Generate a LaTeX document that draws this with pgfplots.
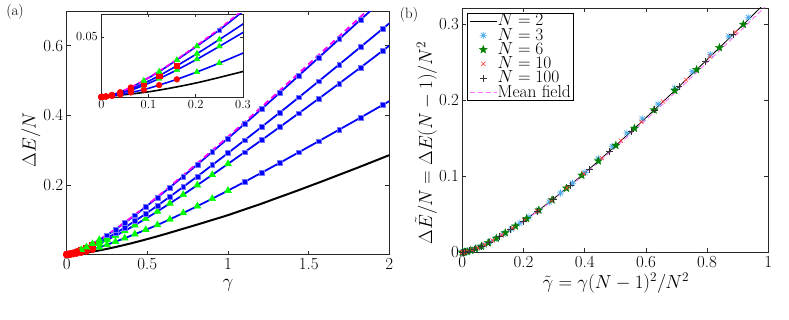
\RequirePackage{fix-cm}
\documentclass[border=0pt]{standalone}
\usepackage{pgfplots}
\pgfplotsset{compat=1.18}
\usepackage{pgfplotstable}
\usetikzlibrary{plotmarks}

\definecolor{mblue}{RGB}{0,0,255}
\definecolor{mgreen}{RGB}{0,255,0}
\definecolor{mred}{RGB}{255,0,0}
\definecolor{mmag}{RGB}{255,0,255}
\definecolor{cyanst}{RGB}{77,170,235}
\definecolor{dgreen}{RGB}{0,128,0}
\definecolor{xred}{RGB}{255,60,60}
\definecolor{pinkmf}{RGB}{255,110,255}
\definecolor{axgray}{RGB}{40,40,40}

% matlab-like marks: 8-ray asterisk and filled pentagram
\pgfdeclareplotmark{ast8}{%
  \pgfpathmoveto{\pgfqpoint{-\pgfplotmarksize}{0pt}}\pgfpathlineto{\pgfqpoint{\pgfplotmarksize}{0pt}}%
  \pgfpathmoveto{\pgfqpoint{0pt}{-\pgfplotmarksize}}\pgfpathlineto{\pgfqpoint{0pt}{\pgfplotmarksize}}%
  \pgfpathmoveto{\pgfqpoint{-0.707\pgfplotmarksize}{-0.707\pgfplotmarksize}}\pgfpathlineto{\pgfqpoint{0.707\pgfplotmarksize}{0.707\pgfplotmarksize}}%
  \pgfpathmoveto{\pgfqpoint{-0.707\pgfplotmarksize}{0.707\pgfplotmarksize}}\pgfpathlineto{\pgfqpoint{0.707\pgfplotmarksize}{-0.707\pgfplotmarksize}}%
  \pgfusepathqstroke}
\pgfdeclareplotmark{pstar}{%
  \pgfpathmoveto{\pgfpointpolar{90}{\pgfplotmarksize}}%
  \pgfpathlineto{\pgfpointpolar{126}{0.42\pgfplotmarksize}}%
  \pgfpathlineto{\pgfpointpolar{162}{\pgfplotmarksize}}%
  \pgfpathlineto{\pgfpointpolar{198}{0.42\pgfplotmarksize}}%
  \pgfpathlineto{\pgfpointpolar{234}{\pgfplotmarksize}}%
  \pgfpathlineto{\pgfpointpolar{270}{0.42\pgfplotmarksize}}%
  \pgfpathlineto{\pgfpointpolar{306}{\pgfplotmarksize}}%
  \pgfpathlineto{\pgfpointpolar{342}{0.42\pgfplotmarksize}}%
  \pgfpathlineto{\pgfpointpolar{18}{\pgfplotmarksize}}%
  \pgfpathlineto{\pgfpointpolar{54}{0.42\pgfplotmarksize}}%
  \pgfpathclose\pgfusepathqfillstroke}

% left panel: Delta E / N against gamma, gamma = (0.05 k)^2, k = 0..28, then gamma = 2
\pgfplotstableread{
g v
0 0
0.0025 0.0001
0.01 0.0005
0.0225 0.0009
0.04 0.0020
0.0625 0.0038
0.09 0.0061
0.1225 0.0099
0.16 0.0147
0.2025 0.0208
0.25 0.0282
0.3025 0.0369
0.36 0.0470
0.4225 0.0585
0.49 0.0711
0.5625 0.0849
0.64 0.1013
0.7225 0.1193
0.81 0.1391
0.9025 0.1605
1.0 0.1838
1.1025 0.2087
1.21 0.2356
1.3225 0.2639
1.44 0.2941
1.5625 0.3257
1.69 0.3591
1.8225 0.3938
1.96 0.4302
2.0 0.4409
}\tNthree
\pgfplotstableread{
g v
0 0
0.0025 0.0000
0.01 0.0004
0.0225 0.0012
0.04 0.0031
0.0625 0.0056
0.09 0.0097
0.1225 0.0153
0.16 0.0225
0.2025 0.0314
0.25 0.0421
0.3025 0.0542
0.36 0.0679
0.4225 0.0845
0.49 0.1032
0.5625 0.1240
0.64 0.1470
0.7225 0.1721
0.81 0.1996
0.9025 0.2291
1.0 0.2606
1.1025 0.2941
1.21 0.3295
1.3225 0.3670
1.44 0.4064
1.5625 0.4480
1.69 0.4918
1.8225 0.5378
1.96 0.5862
2.0 0.6003
}\tNsix
\pgfplotstableread{
g v
0 0
0.0025 0.0001
0.01 0.0004
0.0225 0.0015
0.04 0.0035
0.0625 0.0066
0.09 0.0113
0.1225 0.0177
0.16 0.0260
0.2025 0.0360
0.25 0.0478
0.3025 0.0613
0.36 0.0775
0.4225 0.0962
0.49 0.1172
0.5625 0.1405
0.64 0.1664
0.7225 0.1944
0.81 0.2247
0.9025 0.2572
1.0 0.2917
1.1025 0.3284
1.21 0.3673
1.3225 0.4086
1.44 0.4521
1.5625 0.4980
1.69 0.5464
1.8225 0.5968
1.96 0.6493
2.0 0.6645
}\tNten
\pgfplotstableread{
g v
0 0
0.0025 0.0001
0.01 0.0005
0.0225 0.0018
0.04 0.0040
0.0625 0.0079
0.09 0.0136
0.1225 0.0211
0.16 0.0308
0.2025 0.0423
0.25 0.0557
0.3025 0.0720
0.36 0.0912
0.4225 0.1127
0.49 0.1369
0.5625 0.1638
0.64 0.1931
0.7225 0.2247
0.81 0.2587
0.9025 0.2952
1.0 0.3339
1.1025 0.3752
1.21 0.4191
1.3225 0.4656
1.44 0.5148
1.5625 0.5661
1.69 0.6196
1.8225 0.6752
1.96 0.7328
2.0 0.7496
}\tNhund
\pgfplotstableread{
g v
0 0
0.1 0.0043
0.2 0.0116
0.3 0.0212
0.4 0.0322
0.5 0.0444
0.6 0.0573
0.7 0.0710
0.8 0.0847
0.9 0.0989
1.0 0.1132
1.1 0.1291
1.2 0.1448
1.3 0.1618
1.4 0.1785
1.5 0.1958
1.6 0.2132
1.7 0.2311
1.8 0.2489
1.9 0.2672
2.0 0.2856
}\tNtwo
\pgfplotstableread{
g v
0 0
0.02 0.0015
0.04 0.0041
0.06 0.0075
0.08 0.0116
0.10 0.0161
0.12 0.0209
0.14 0.0260
0.16 0.0313
0.20 0.0423
0.25 0.0566
0.30 0.0724
0.35 0.0893
0.40 0.1066
0.45 0.1244
0.50 0.1428
0.60 0.1805
0.70 0.2193
0.80 0.2586
0.90 0.2984
1.00 0.3386
1.10 0.3794
1.20 0.4208
1.30 0.4626
1.40 0.5049
1.50 0.5472
1.60 0.5896
1.70 0.6319
1.80 0.6742
1.90 0.7166
2.00 0.7589
}\tMF

% right panel: scaled energy against scaled coupling
\pgfplotstableread{
g v
0 0
0.02 0.0015
0.04 0.0040
0.06 0.0074
0.08 0.0114
0.10 0.0158
0.12 0.0205
0.14 0.0255
0.16 0.0307
0.20 0.0415
0.25 0.0555
0.30 0.0710
0.35 0.0875
0.40 0.1045
0.45 0.1220
0.50 0.1400
0.60 0.1770
0.70 0.2150
0.80 0.2535
0.90 0.2925
1.00 0.3320
}\rNtwo
\pgfplotstableread{
g v
0 0
0.00111 0.00005
0.00444 0.0003
0.01 0.0006
0.01778 0.0013
0.02778 0.0025
0.04 0.0040
0.05444 0.0065
0.07111 0.0096
0.09 0.0136
0.11111 0.0184
0.13444 0.0241
0.16 0.0307
0.18778 0.0382
0.21778 0.0465
0.25 0.0555
0.28444 0.0662
0.32111 0.0780
0.36 0.0909
0.40111 0.1049
0.44444 0.1231
0.49 0.1394
0.53778 0.1570
0.58778 0.1755
0.64 0.1952
0.69444 0.2159
0.75111 0.2377
0.81 0.2604
0.87111 0.2842
0.93444 0.3091
}\rNthree
\pgfplotstableread{
g v
0 0
0.00174 0.00004
0.00694 0.0003
0.01563 0.0010
0.02778 0.0025
0.04340 0.0046
0.0625 0.0079
0.08507 0.0125
0.11111 0.0184
0.14063 0.0257
0.17361 0.0344
0.21007 0.0443
0.25 0.0555
0.29340 0.0690
0.34028 0.0843
0.39063 0.1013
0.44444 0.1201
0.50174 0.1406
0.5625 0.1631
0.62674 0.1872
0.69444 0.2129
0.76563 0.2403
0.84028 0.2692
0.91840 0.2998
}\rNsix
\pgfplotstableread{
g v
0 0
0.00203 0.00005
0.0081 0.0004
0.01823 0.0013
0.0324 0.0031
0.05063 0.0058
0.0729 0.0100
0.09923 0.0156
0.1296 0.0229
0.16403 0.0318
0.2025 0.0422
0.24503 0.0541
0.2916 0.0684
0.34223 0.0849
0.3969 0.1034
0.45563 0.1240
0.5184 0.1468
0.58523 0.1715
0.6561 0.1983
0.73103 0.2269
0.81 0.2574
0.89303 0.2898
}\rNten
\pgfplotstableread{
g v
0 0
0.00245 0.0001
0.0098 0.0005
0.02205 0.0018
0.0392 0.0039
0.06126 0.0077
0.08821 0.0132
0.12006 0.0205
0.15682 0.0299
0.19847 0.0411
0.24503 0.0541
0.29648 0.0699
0.35284 0.0885
0.41409 0.1094
0.48025 0.1329
0.5513 0.1590
0.62726 0.1874
0.70812 0.2181
0.79388 0.2511
0.88454 0.2865
}\rNhund
\pgfplotstableread{
g v
0 0
0.02 0.0015
0.04 0.0039
0.06 0.0073
0.08 0.0112
0.10 0.0156
0.12 0.0202
0.14 0.0251
0.16 0.0302
0.20 0.0409
0.25 0.0547
0.30 0.0699
0.35 0.0862
0.40 0.1029
0.45 0.1202
0.50 0.1379
0.60 0.1743
0.70 0.2118
0.80 0.2497
0.90 0.2881
1.00 0.3270
}\rMF

\pgfplotsset{
  mat/.style={
    scale only axis,
    axis line style={axgray, line width=0.8pt},
    tick style={axgray, line width=0.6pt},
    tick align=inside,
    tick pos=both,
    major tick length=4pt,
    scaled ticks=false,
    ticklabel style={font=\fontsize{17}{17}\selectfont},
  },
  sq/.style={only marks, mark=square*, mark size=2.4pt,
    mark options={fill=mblue, draw=blue!55, line width=0.4pt}},
  tri/.style={only marks, mark=triangle*, mark size=4pt,
    mark options={fill=mgreen, draw=mgreen}},
  rc/.style={only marks, mark=*, mark size=3.4pt,
    mark options={fill=mred, draw=mred}},
  rs/.style={only marks, mark=square*, mark size=3pt,
    mark options={fill=mred, draw=mred}},
  bl/.style={mblue, line width=1.8pt, smooth},
}

\begin{document}
\begin{tikzpicture}
\useasboundingbox (0bp,0bp) rectangle (789bp,320bp);

\node[font=\fontsize{15}{15}\selectfont] at (15bp,308bp) {(a)};
\node[font=\fontsize{15}{15}\selectfont] at (409bp,305bp) {(b)};

% ---- (a) main
\begin{axis}[mat,
  at={(66.7bp,65.5bp)}, anchor=south west,
  width=322.6bp, height=243.5bp,
  xmin=0, xmax=2, ymin=0, ymax=0.70,
  xtick={0,0.5,1,1.5,2}, xticklabels={0,0.5,1,1.5,2},
  ytick={0.2,0.4,0.6}, yticklabels={0.2,0.4,0.6},
  xlabel={$\gamma$}, ylabel={$\Delta E/N$},
  xlabel style={at={(axis description cs:0.5,-0.125)}, anchor=center, font=\fontsize{19}{19}\selectfont},
  ylabel style={at={(axis description cs:-0.111,0.47)}, anchor=center, font=\fontsize{19}{19}\selectfont},
]
  \addplot[black, line width=2pt, smooth] table {\tNtwo};
  \addplot[bl] table {\tNthree};
  \addplot[bl] table {\tNsix};
  \addplot[bl] table {\tNten};
  \addplot[bl] table {\tNhund};
  \addplot[mmag, line width=1.8pt, dash pattern=on 6pt off 4pt, smooth] table {\tMF};
  % N = 3
  \addplot[sq, skip coords between index={0}{21}, skip coords between index={29}{30}] table {\tNthree};
  \addplot[tri, skip coords between index={0}{9}, skip coords between index={21}{30}] table {\tNthree};
  \addplot[rc, skip coords between index={9}{30}] table {\tNthree};
  % N = 6
  \addplot[sq, skip coords between index={0}{21}, skip coords between index={29}{30}] table {\tNsix};
  \addplot[tri, skip coords between index={0}{6}, skip coords between index={21}{30}] table {\tNsix};
  \addplot[rc, skip coords between index={6}{30}] table {\tNsix};
  % N = 10
  \addplot[sq, skip coords between index={0}{11}, skip coords between index={29}{30}] table {\tNten};
  \addplot[tri, skip coords between index={0}{9}, skip coords between index={11}{30}] table {\tNten};
  \addplot[rs, skip coords between index={0}{6}, skip coords between index={9}{30}] table {\tNten};
  \addplot[rc, skip coords between index={6}{30}] table {\tNten};
  % N = 100
  \addplot[sq, skip coords between index={0}{10}, skip coords between index={28}{30}] table {\tNhund};
  \addplot[tri, skip coords between index={0}{6}, skip coords between index={10}{30}] table {\tNhund};
  \addplot[rc, skip coords between index={6}{30}] table {\tNhund};
\end{axis}

% ---- (a) inset
\begin{axis}[mat,
  at={(101.3bp,223bp)}, anchor=south west,
  width=141.7bp, height=83bp,
  axis background/.style={fill=white},
  xmin=0, xmax=0.3, ymin=0, ymax=0.069,
  xtick={0,0.1,0.2,0.3}, xticklabels={0,0.1,0.2,0.3},
  ytick={0.05}, yticklabels={0.05},
  major tick length=3pt,
  ticklabel style={font=\fontsize{12.5}{12.5}\selectfont},
  restrict x to domain=0:0.31,
  sq/.append style={mark size=2.3pt},
  tri/.append style={mark size=3.4pt},
  rc/.append style={mark size=2.9pt},
  rs/.append style={mark size=2.6pt},
  bl/.append style={line width=1.6pt},
]
  \addplot[black, line width=1.6pt, smooth] table {\tNtwo};
  \addplot[bl] table {\tNthree};
  \addplot[bl] table {\tNsix};
  \addplot[bl] table {\tNten};
  \addplot[bl] table {\tNhund};
  \addplot[mmag, line width=1.6pt, dash pattern=on 5pt off 3pt] table {\tMF};
  \addplot[tri, skip coords between index={0}{9}, skip coords between index={21}{30}] table {\tNthree};
  \addplot[rc, skip coords between index={9}{30}] table {\tNthree};
  \addplot[tri, skip coords between index={0}{6}, skip coords between index={21}{30}] table {\tNsix};
  \addplot[rc, skip coords between index={6}{30}] table {\tNsix};
  \addplot[tri, skip coords between index={0}{9}, skip coords between index={11}{30}] table {\tNten};
  \addplot[rs, skip coords between index={0}{6}, skip coords between index={9}{30}] table {\tNten};
  \addplot[rc, skip coords between index={6}{30}] table {\tNten};
  \addplot[sq, skip coords between index={0}{10}, skip coords between index={28}{30}] table {\tNhund};
  \addplot[tri, skip coords between index={0}{6}, skip coords between index={10}{30}] table {\tNhund};
  \addplot[rc, skip coords between index={6}{30}] table {\tNhund};
\end{axis}

% ---- (b)
\begin{axis}[mat,
  at={(462.3bp,67.7bp)}, anchor=south west,
  width=306bp, height=244.3bp,
  xmin=0, xmax=1, ymin=0, ymax=0.3214,
  xtick={0,0.2,0.4,0.6,0.8,1}, xticklabels={0,0.2,0.4,0.6,0.8,1},
  ytick={0,0.1,0.2,0.3}, yticklabels={0,0.1,0.2,0.3},
  xlabel={$\tilde{\gamma}=\gamma(N-1)^2/N^2$},
  ylabel={$\Delta\tilde{E}/N=\Delta E(N-1)/N^2$},
  xlabel style={at={(axis description cs:0.502,-0.126)}, anchor=center, font=\fontsize{19}{19}\selectfont},
  ylabel style={at={(axis description cs:-0.119,0.447)}, anchor=center, font=\fontsize{19}{19}\selectfont},
  legend image code/.code={\draw[mark repeat=2,mark phase=2,#1] plot coordinates {(0pt,0pt) (13.5pt,0pt) (27pt,0pt)};},
  legend cell align=left,
  legend style={at={(0.0154,0.9795)}, anchor=north west, draw=black, line width=0.8pt,
    fill=white, font=\fontsize{17.5}{17.5}\selectfont, inner xsep=2pt, inner ysep=1pt,
    row sep=0.8pt, nodes={inner sep=0.5pt, text height=11pt, text depth=1.5pt}},
]
  \addplot[black, line width=0.8pt, smooth] table {\rNtwo};
  \addlegendentry{$N=2$}
  \addplot[only marks, mark=ast8, mark size=3.6pt, mark options={draw=cyanst, line width=0.7pt}] table {\rNthree};
  \addlegendentry{$N=3$}
  \addplot[only marks, mark=pstar, mark size=4.2pt, mark options={fill=dgreen, draw=dgreen, line width=0.3pt}] table {\rNsix};
  \addlegendentry{$N=6$}
  \addplot[only marks, mark=x, mark size=3pt, mark options={draw=xred, line width=0.6pt}] table {\rNten};
  \addlegendentry{$N=10$}
  \addplot[only marks, mark=+, mark size=3.5pt, mark options={draw=black!80, line width=0.6pt}] table {\rNhund};
  \addlegendentry{$N=100$}
  \addplot[pinkmf, line width=0.9pt, dash pattern=on 5pt off 3pt, smooth] table {\rMF};
  \addlegendentry{Mean field}
\end{axis}
\end{tikzpicture}
\end{document}
